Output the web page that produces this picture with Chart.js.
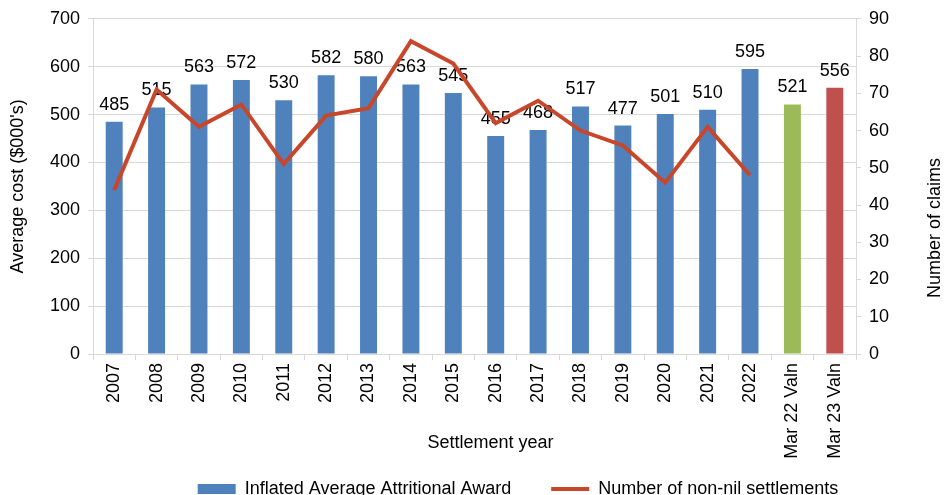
<!DOCTYPE html>
<html>
<head>
<meta charset="utf-8">
<script src="https://cdn.jsdelivr.net/npm/chart.js@4.4.0/dist/chart.umd.min.js"></script>
<style>
  html, body { margin: 0; padding: 0; background: #fff; overflow: hidden; }
  #wrap { width: 946px; height: 537px; position: relative; }
</style>
</head>
<body>
<div id="wrap"><canvas id="claimsChart"></canvas></div>
<script>
const years = ['2007', '2008', '2009', '2010', '2011', '2012', '2013', '2014', '2015',
  '2016', '2017', '2018', '2019', '2020', '2021', '2022', 'Mar 22 Valn', 'Mar 23 Valn'];
const avgAward = [485, 515, 563, 572, 530, 582, 580, 563, 545, 455, 468, 517, 477, 501, 510, 595, 521, 556];
const nonNilSettlements = [44, 71, 61, 67, 51, 64, 66, 84, 78, 62, 68, 60, 56, 46, 61, 48, null, null];
const barColours = years.map((y, i) => i < 16 ? '#4F81BD' : (i === 16 ? '#9BBB59' : '#C0504D'));

const FONT = "'Liberation Sans', Arial, sans-serif";
Chart.defaults.font.family = FONT;
Chart.defaults.font.size = 18;
Chart.defaults.color = '#000';

// value labels above bars + titles drawn by hand (right title reads bottom-to-top)
const extras = {
  id: 'extras',
  afterLayout(chart) {
    // legend in the original sits right of centre and overlaps the long x labels' band
    const lg = chart.legend;
    lg.left += 45;
    lg.right += 45;
    lg.top -= 29;
    lg.bottom -= 29;
  },
  afterDatasetDraw(chart, args) {
    if (args.index !== 1) return;
    const ctx = chart.ctx;
    ctx.save();
    ctx.font = '18px ' + FONT;
    ctx.fillStyle = '#000';
    ctx.textAlign = 'center';
    ctx.textBaseline = 'bottom';
    args.meta.data.forEach((bar, i) => {
      ctx.fillText(avgAward[i], bar.x, bar.y - 8);
    });
    ctx.restore();
  },
  afterDraw(chart) {
    const ctx = chart.ctx;
    const x = chart.scales.x;
    ctx.save();
    ctx.font = '18px ' + FONT;
    ctx.fillStyle = '#000';
    ctx.textAlign = 'center';
    ctx.textBaseline = 'middle';
    ctx.fillText('Settlement year', (x.left + x.right) / 2 + 16, 443);
    ctx.translate(935, 228);
    ctx.rotate(-Math.PI / 2);
    ctx.fillText('Number of claims', 0, 0);
    ctx.restore();
  }
};

new Chart(document.getElementById('claimsChart'), {
  type: 'bar',
  data: {
    labels: years,
    datasets: [{
      type: 'line',
      label: 'Number of non-nil settlements',
      data: nonNilSettlements,
      yAxisID: 'y1',
      borderColor: '#C8472B',
      backgroundColor: '#C8472B',
      borderWidth: 4,
      pointRadius: 0,
      pointStyle: 'line',
      tension: 0,
      order: 0
    }, {
      label: 'Inflated Average Attritional Award',
      data: avgAward,
      yAxisID: 'y',
      backgroundColor: barColours,
      borderWidth: 0,
      pointStyle: 'rect',
      categoryPercentage: 1,
      barPercentage: 0.4,
      order: 1
    }]
  },
  options: {
    responsive: true,
    maintainAspectRatio: false,
    animation: false,
    layout: { padding: { top: 12, bottom: 0 } },
    plugins: {
      tooltip: { enabled: false },
      legend: {
        position: 'bottom',
        reverse: true,
        labels: {
          usePointStyle: true,
          pointStyleWidth: 38,
          boxHeight: 10,
          padding: 40,
          font: { size: 18 }
        }
      }
    },
    scales: {
      x: {
        afterFit(s) { s.height = 115; },
        grid: { drawOnChartArea: false, offset: true, tickLength: 6, color: '#d9d9d9' },
        border: { color: '#d9d9d9' },
        ticks: { minRotation: 90, maxRotation: 90, autoSkip: false, font: { size: 18 } }
      },
      y: {
        position: 'left',
        min: 0, max: 700,
        afterFit(s) { s.width = 93; },
        ticks: { stepSize: 100, padding: 8 },
        grid: { color: '#d9d9d9', tickLength: 5 },
        border: { color: '#d9d9d9' },
        title: { display: true, text: "Average cost ($000's)", font: { size: 18 }, padding: { top: 7, bottom: 0 } }
      },
      y1: {
        position: 'right',
        min: 0, max: 90,
        afterFit(s) { s.width = 90; },
        ticks: { stepSize: 10, padding: 8 },
        grid: { drawOnChartArea: false, color: '#d9d9d9', tickLength: 5 },
        border: { color: '#d9d9d9' }
      }
    }
  },
  plugins: [extras]
});
</script>
</body>
</html>
